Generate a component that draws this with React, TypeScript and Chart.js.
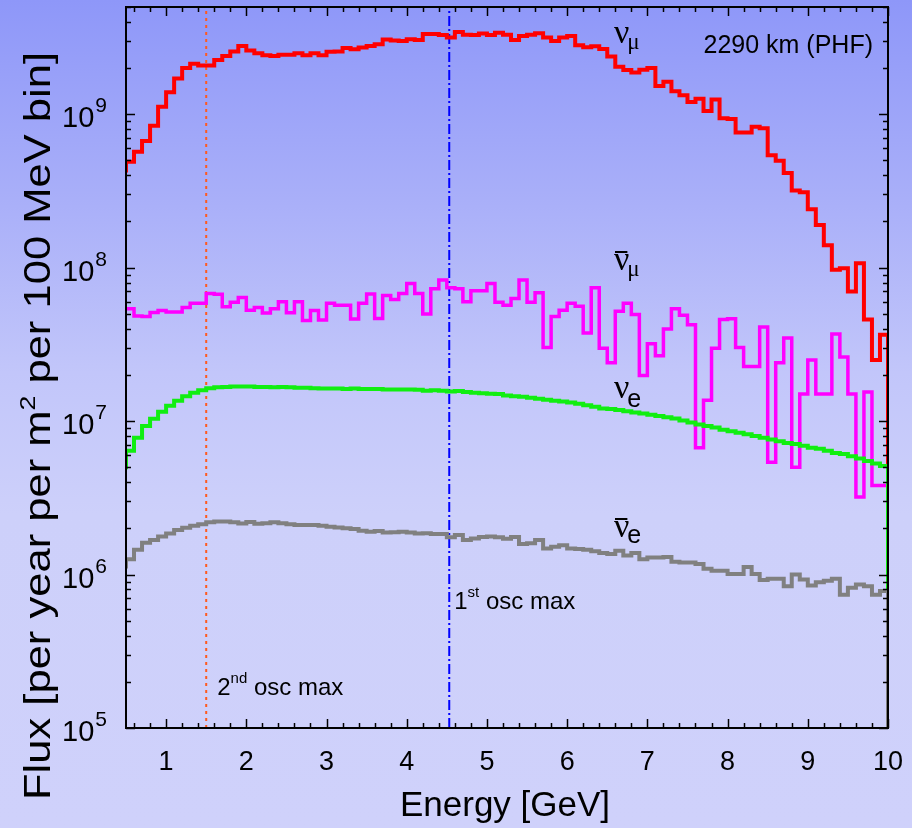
import { useEffect, useRef } from 'react';
import { Chart, registerables } from 'chart.js';
Chart.register(...registerables);

// Lower edges of the 100 MeV energy bins [GeV]
const binLowEdges = [
  0.4, 0.5, 0.6, 0.7, 0.8, 0.9,
  1.0, 1.1, 1.2, 1.3, 1.4, 1.5, 1.6, 1.7, 1.8, 1.9,
  2.0, 2.1, 2.2, 2.3, 2.4, 2.5, 2.6, 2.7, 2.8, 2.9,
  3.0, 3.1, 3.2, 3.3, 3.4, 3.5, 3.6, 3.7, 3.8, 3.9,
  4.0, 4.1, 4.2, 4.3, 4.4, 4.5, 4.6, 4.7, 4.8, 4.9,
  5.0, 5.1, 5.2, 5.3, 5.4, 5.5, 5.6, 5.7, 5.8, 5.9,
  6.0, 6.1, 6.2, 6.3, 6.4, 6.5, 6.6, 6.7, 6.8, 6.9,
  7.0, 7.1, 7.2, 7.3, 7.4, 7.5, 7.6, 7.7, 7.8, 7.9,
  8.0, 8.1, 8.2, 8.3, 8.4, 8.5, 8.6, 8.7, 8.8, 8.9,
  9.0, 9.1, 9.2, 9.3, 9.4, 9.5, 9.6, 9.7, 9.8, 9.9,
];
const lastBinUpperEdge = 10;

const numu = [
  4.3e8, 4.9e8, 5.7e8, 6.7e8, 8.4e8, 1.12e9,
  1.39e9, 1.71e9, 2.0e9, 2.13e9, 2.08e9, 2.08e9, 2.26e9, 2.4e9, 2.56e9, 2.79e9,
  2.6e9, 2.5e9, 2.42e9, 2.4e9, 2.44e9, 2.44e9, 2.5e9, 2.42e9, 2.5e9, 2.42e9,
  2.55e9, 2.56e9, 2.7e9, 2.65e9, 2.72e9, 2.78e9, 2.86e9, 3.07e9, 3.03e9, 3.0e9,
  3.08e9, 3.05e9, 3.34e9, 3.34e9, 3.28e9, 3.16e9, 3.44e9, 3.3e9, 3.28e9, 3.36e9,
  3.28e9, 3.4e9, 3.3e9, 3.05e9, 3.24e9, 3.3e9, 3.37e9, 3.16e9, 3.0e9, 3.16e9,
  3.24e9, 2.82e9, 2.73e9, 2.77e9, 2.66e9, 2.38e9, 2.04e9, 1.94e9, 1.87e9, 1.95e9,
  2.0e9, 1.53e9, 1.63e9, 1.41e9, 1.33e9, 1.2e9, 1.26e9, 1.05e9, 1.25e9, 9.4e8,
  9.3e8, 7.6e8, 7.6e8, 8.3e8, 8.1e8, 5.4e8, 4.98e8, 4.14e8, 3.19e8, 3.1e8,
  2.4e8, 1.9e8, 1.4e8, 9.7e7, 9.9e7, 7.0e7, 1.07e8, 4.6e7, 2.5e7, 3.65e7,
];

const anumu = [
  5.4e7, 5.4e7, 4.85e7, 4.8e7, 5.1e7, 5.25e7,
  5.15e7, 5.15e7, 5.5e7, 5.86e7, 5.86e7, 6.8e7, 6.7e7, 5.57e7, 5.96e7, 6.4e7,
  5.28e7, 5.5e7, 5.06e7, 5.4e7, 6.0e7, 5.08e7, 6.0e7, 4.53e7, 5.25e7, 4.56e7,
  5.86e7, 5.7e7, 5.7e7, 4.63e7, 5.86e7, 6.74e7, 4.67e7, 6.6e7, 6.2e7, 6.8e7,
  7.9e7, 6.8e7, 5.0e7, 7.3e7, 8.3e7, 7.4e7, 7.3e7, 6.0e7, 7.08e7, 7.08e7,
  7.9e7, 5.96e7, 5.7e7, 6.3e7, 8.3e7, 5.95e7, 6.87e7, 3.02e7, 4.8e7, 5.28e7,
  5.86e7, 5.6e7, 3.75e7, 7.4e7, 2.99e7, 2.4e7, 5.2e7, 5.86e7, 4.95e7, 1.98e7,
  3.19e7, 2.67e7, 3.98e7, 5.4e7, 4.9e7, 4.25e7, 6.7e6, 1.37e7, 2.98e7, 4.6e7,
  4.65e7, 3.02e7, 2.27e7, 2.27e7, 4.1e7, 5.4e6, 2.4e7, 3.48e7, 5.0e6, 1.5e7,
  2.5e7, 1.5e7, 1.5e7, 3.69e7, 2.62e7, 1.5e7, 3.2e6, 1.55e7, 3.8e6, 3.8e6,
];

const nue = [
  5.0e6, 6.4e6, 7.8e6, 9.3e6, 1.035e7, 1.15e7,
  1.26e7, 1.36e7, 1.45e7, 1.53e7, 1.59e7, 1.64e7, 1.66e7, 1.67e7, 1.68e7, 1.68e7,
  1.68e7, 1.67e7, 1.67e7, 1.66e7, 1.67e7, 1.66e7, 1.65e7, 1.65e7, 1.64e7, 1.63e7,
  1.63e7, 1.63e7, 1.62e7, 1.63e7, 1.62e7, 1.62e7, 1.62e7, 1.61e7, 1.61e7, 1.61e7,
  1.61e7, 1.60e7, 1.58e7, 1.59e7, 1.58e7, 1.56e7, 1.57e7, 1.55e7, 1.53e7, 1.52e7,
  1.51e7, 1.50e7, 1.47e7, 1.45e7, 1.44e7, 1.42e7, 1.40e7, 1.38e7, 1.36e7, 1.34e7,
  1.32e7, 1.30e7, 1.27e7, 1.24e7, 1.21e7, 1.20e7, 1.18e7, 1.16e7, 1.14e7, 1.12e7,
  1.10e7, 1.08e7, 1.06e7, 1.04e7, 1.01e7, 9.8e6, 9.5e6, 9.3e6, 9.1e6, 8.8e6,
  8.6e6, 8.4e6, 8.2e6, 8.0e6, 7.8e6, 7.6e6, 7.4e6, 7.2e6, 7.1e6, 6.9e6,
  6.7e6, 6.6e6, 6.4e6, 6.2e6, 6.1e6, 5.9e6, 5.7e6, 5.5e6, 5.3e6, 5.1e6,
];

const anue = [
  1.13e6, 1.26e6, 1.45e6, 1.61e6, 1.68e6, 1.77e6,
  1.85e6, 1.95e6, 2.02e6, 2.08e6, 2.13e6, 2.19e6, 2.22e6, 2.22e6, 2.19e6, 2.15e6,
  2.2e6, 2.14e6, 2.16e6, 2.19e6, 2.16e6, 2.13e6, 2.1e6, 2.1e6, 2.1e6, 2.08e6,
  2.05e6, 2.03e6, 2.0e6, 1.98e6, 1.93e6, 1.9e6, 1.92e6, 1.88e6, 1.89e6, 1.9e6,
  1.88e6, 1.85e6, 1.86e6, 1.84e6, 1.84e6, 1.75e6, 1.81e6, 1.68e6, 1.72e6, 1.76e6,
  1.77e6, 1.75e6, 1.71e6, 1.76e6, 1.58e6, 1.6e6, 1.68e6, 1.48e6, 1.52e6, 1.55e6,
  1.48e6, 1.47e6, 1.45e6, 1.42e6, 1.38e6, 1.36e6, 1.43e6, 1.33e6, 1.38e6, 1.26e6,
  1.29e6, 1.29e6, 1.3e6, 1.21e6, 1.2e6, 1.2e6, 1.17e6, 1.09e6, 1.06e6, 1.06e6,
  1.01e6, 1.01e6, 1.12e6, 1.01e6, 9.2e5, 9.4e5, 9.4e5, 8.4e5, 1.0e6, 9.3e5,
  8.5e5, 8.9e5, 9.1e5, 9.4e5, 7.4e5, 8.2e5, 8.6e5, 8.4e5, 7.4e5, 7.8e5,
];

// Oscillation maxima [GeV]
const firstOscMax = 4.53;
const secondOscMax = 1.5;

// Axes
const xMin = 0.5;
const xMax = 10;
const yMin = 1e5;
const yMax = 5e9;
const xMajorTicks = [1, 2, 3, 4, 5, 6, 7, 8, 9, 10];
const yMajorTicks = [1e5, 1e6, 1e7, 1e8, 1e9];
const yTickExponents = ['5', '6', '7', '8', '9'];

const SANS = '"Liberation Sans", Arial, Helvetica, sans-serif';
const SERIF = '"Liberation Serif", "Times New Roman", serif';

function histPoints(values: number[]) {
  const pts = binLowEdges.map((e, i) => ({ x: e, y: values[i] }));
  // upper edge of the last bin, then close the histogram (drop below the axis)
  pts.push({ x: lastBinUpperEdge, y: values[values.length - 1] });
  pts.push({ x: lastBinUpperEdge, y: 1e3 });
  return pts;
}

const bgPlugin = {
  id: 'bg',
  beforeDraw(chart: any) {
    const { ctx, width, height } = chart;
    const g = ctx.createLinearGradient(0, 0, 0, height);
    g.addColorStop(0, '#8e97f9');
    g.addColorStop(0.25, '#aab0f9');
    g.addColorStop(0.45, '#c2c6fa');
    g.addColorStop(0.62, '#cdd0fa');
    g.addColorStop(1, '#cfd1fb');
    ctx.save();
    ctx.fillStyle = g;
    ctx.fillRect(0, 0, width, height);
    ctx.restore();
  },
};

function drawNu(ctx: any, x: number, base: number, sub: string, subSerif: boolean, subBase: number, bar: boolean) {
  ctx.font = `34px ${SERIF}`;
  ctx.textAlign = 'left';
  ctx.fillText('\u03BD', x, base);
  const w = ctx.measureText('\u03BD').width;
  if (bar) {
    ctx.fillRect(x + 1, base - 19, w - 3, 2);
  }
  ctx.font = subSerif ? `23px ${SERIF}` : `25px ${SANS}`;
  ctx.fillText(sub, x + w - 2, subBase);
}

const axesPlugin = {
  id: 'axesDeco',
  afterDraw(chart: any) {
    const { ctx, chartArea: ca } = chart;
    const xs = chart.scales.x;
    const ys = chart.scales.y;
    ctx.save();
    ctx.fillStyle = '#000';
    ctx.strokeStyle = '#000';

    const seg = (x1: number, y1: number, x2: number, y2: number) => {
      ctx.beginPath();
      ctx.moveTo(x1, y1);
      ctx.lineTo(x2, y2);
      ctx.stroke();
    };

    // ticks
    ctx.lineWidth = 1.5;
    for (let v = 0.6; v < xMax + 0.01; v += 0.2) {
      const isMajor = Math.abs(v - Math.round(v)) < 1e-6;
      const px = Math.round(xs.getPixelForValue(v)) + 0.5;
      const len = isMajor ? 9 : 5;
      seg(px, ca.bottom, px, ca.bottom - len);
      seg(px, ca.top, px, ca.top + len);
    }
    for (let d = 5; d <= 9; d++) {
      for (let m = 1; m <= 9; m++) {
        const v = m * Math.pow(10, d);
        if (v > yMax) break;
        const py = Math.round(ys.getPixelForValue(v)) + 0.5;
        const len = m === 1 ? 9 : 5;
        seg(ca.left, py, ca.left + len, py);
        seg(ca.right, py, ca.right - len, py);
      }
    }

    // frame
    ctx.lineWidth = 2;
    ctx.strokeRect(ca.left, ca.top, ca.right - ca.left, ca.bottom - ca.top);

    // x tick labels
    ctx.font = `27px ${SANS}`;
    ctx.textAlign = 'center';
    ctx.textBaseline = 'alphabetic';
    xMajorTicks.forEach((v) => {
      ctx.fillText(String(v), xs.getPixelForValue(v), ca.bottom + 42);
    });

    // y tick labels 10^n
    yMajorTicks.forEach((v, i) => {
      const py = ys.getPixelForValue(v);
      ctx.font = `21px ${SANS}`;
      ctx.textAlign = 'right';
      const ex = yTickExponents[i];
      const ew = ctx.measureText(ex).width;
      const right = ca.left - 19;
      ctx.fillText(ex, right, py - 2);
      ctx.font = `29px ${SANS}`;
      ctx.fillText('10', right - ew - 1, py + 13);
    });

    // x axis title
    ctx.font = `35px ${SANS}`;
    ctx.textAlign = 'center';
    ctx.fillText('Energy [GeV]', (ca.left + ca.right) / 2 - 2, ca.bottom + 88);

    // y axis title (rotated)
    ctx.save();
    ctx.translate(50, 426);
    ctx.rotate(-Math.PI / 2);
    const p1 = 'Flux [per year per m';
    const p2 = '2';
    const p3 = ' per 100 MeV bin]';
    ctx.font = `36px ${SANS}`;
    const w1 = ctx.measureText(p1).width;
    const w3 = ctx.measureText(p3).width;
    ctx.font = `22px ${SANS}`;
    const w2 = ctx.measureText(p2).width;
    const total = w1 + w2 + w3;
    const s = 748 / total;
    ctx.scale(s, 1);
    ctx.textAlign = 'left';
    let x0 = -total / 2;
    ctx.font = `36px ${SANS}`;
    ctx.fillText(p1, x0, 0);
    x0 += w1;
    ctx.font = `22px ${SANS}`;
    ctx.fillText(p2, x0, -15);
    x0 += w2;
    ctx.font = `36px ${SANS}`;
    ctx.fillText(p3, x0, 0);
    ctx.restore();

    // annotations
    ctx.font = `25px ${SANS}`;
    ctx.textAlign = 'right';
    ctx.fillText('2290 km (PHF)', ca.right - 15, ca.top + 46);

    drawNu(ctx, 614, 43, '\u03BC', true, 49, false);
    drawNu(ctx, 614, 270, '\u03BC', true, 276, true);
    drawNu(ctx, 614, 398, 'e', false, 407, false);
    drawNu(ctx, 614, 537, 'e', false, 543, true);

    // oscillation maximum labels
    const drawOsc = (x: number, base: number, n: string, sup: string) => {
      ctx.textAlign = 'left';
      ctx.font = `24px ${SANS}`;
      ctx.fillText(n, x, base);
      let cx = x + ctx.measureText(n).width;
      ctx.font = `15px ${SANS}`;
      ctx.fillText(sup, cx, base - 12);
      cx += ctx.measureText(sup).width;
      ctx.font = `24px ${SANS}`;
      ctx.fillText(' osc max', cx, base);
    };
    drawOsc(xs.getPixelForValue(firstOscMax) + 5, ca.top + 602, '1', 'st');
    drawOsc(xs.getPixelForValue(secondOscMax) + 11, ca.top + 688, '2', 'nd');

    ctx.restore();
  },
};

export default function App() {
  const ref = useRef<HTMLCanvasElement>(null);
  useEffect(() => {
    document.body.style.margin = '0';
    document.body.style.overflow = 'hidden';
    const canvas = ref.current;
    if (!canvas) return;
    const lineDs = (label: string, values: number[], color: string, width: number) => ({
      label,
      data: histPoints(values),
      borderColor: color,
      backgroundColor: color,
      borderWidth: width,
      stepped: 'before' as const,
      pointRadius: 0,
      fill: false,
      borderJoinStyle: 'miter' as const,
      borderCapStyle: 'butt' as const,
    });
    const chart = new Chart(canvas, {
      type: 'line',
      data: {
        datasets: [
          lineDs('anue', anue, '#808080', 4),
          lineDs('nue', nue, '#11ee11', 4),
          lineDs('numu', numu, '#ff0000', 4),
          lineDs('anumu', anumu, '#ff00ff', 3.5),
          {
            label: '2nd osc max',
            data: [
              { x: secondOscMax, y: yMin },
              { x: secondOscMax, y: yMax },
            ],
            borderColor: '#ff5a1e',
            borderWidth: 2,
            borderDash: [3, 4],
            pointRadius: 0,
            fill: false,
          },
          {
            label: '1st osc max',
            data: [
              { x: firstOscMax, y: yMin },
              { x: firstOscMax, y: yMax },
            ],
            borderColor: '#0000ff',
            borderWidth: 2,
            borderDash: [10, 3, 2, 3],
            pointRadius: 0,
            fill: false,
          },
        ],
      },
      options: {
        animation: false,
        responsive: false,
        devicePixelRatio: 1,
        layout: { padding: { left: 126, top: 7, right: 24, bottom: 100 } },
        plugins: { legend: { display: false }, tooltip: { enabled: false } },
        scales: {
          x: { type: 'linear', min: xMin, max: xMax, display: false },
          y: { type: 'logarithmic', min: yMin, max: yMax, display: false },
        },
      },
      plugins: [bgPlugin, axesPlugin],
    });
    return () => chart.destroy();
  }, []);
  return <canvas ref={ref} width={912} height={828} style={{ display: 'block' }} />;
}
